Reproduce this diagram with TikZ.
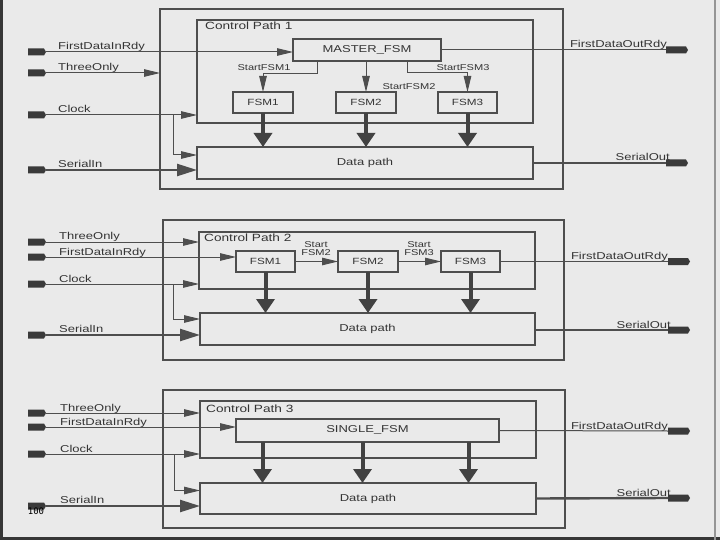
\documentclass[tikz,border=0pt]{standalone}
\usepackage{fontspec}
\setmainfont{Liberation Sans}[FakeStretch=1.3]
\newfontfamily\pagenumfont{DejaVu Sans Mono}
\usetikzlibrary{arrows.meta,shapes.symbols,calc}
\definecolor{bg}{RGB}{234,234,234}
\definecolor{ln}{RGB}{78,78,78}
\definecolor{tx}{RGB}{52,52,52}
\newcommand\sigfont{\fontsize{10}{11}\selectfont}
\newcommand\smallfont{\fontsize{8.5}{7.5}\selectfont}
\newcommand\fsmfont{\fontsize{9}{10}\selectfont}
\newcommand\bigfont{\fontsize{10}{11}\selectfont}
\newcommand\cpfont{\fontsize{10.5}{11}\selectfont}
\tikzset{
  x=1pt, y=-1pt,
  box/.style={draw=ln, line width=1.3pt, inner sep=0pt, outer sep=0pt, anchor=north west, text=tx},
  fsmbox/.style={box, font=\fsmfont},
  bigbox/.style={box, font=\bigfont},
  cplabel/.style={font=\cpfont, text=tx, inner sep=0pt, anchor=base west},
  sigL/.style={font=\sigfont, text=tx, inner sep=0pt, anchor=base west},
  sigR/.style={font=\sigfont, text=tx, inner sep=0pt, anchor=base east},
  startlab/.style={font=\smallfont, text=tx, inner sep=0pt, align=center},
  pin/.style={signal, signal to=east, signal pointer angle=120, fill=ln!75!black, draw=none,
              minimum width=18pt, minimum height=7pt, inner sep=0pt, outer sep=0pt},
  pinR/.style={pin, minimum width=22pt},
  arr/.style={draw=ln, line width=1pt, -{Triangle[length=16pt,width=7.5pt]}},
  plain/.style={draw=ln, line width=1pt},
  bigarr/.style={draw=ln, line width=2.4pt, -{Triangle[length=20pt,width=12pt]}},
  bigline/.style={draw=ln, line width=2.4pt},
  fat/.style={draw=ln!85!black, line width=4pt, -{Triangle[length=14pt,width=18pt]}},
}
\begin{document}
\begin{tikzpicture}
\useasboundingbox (0,0) rectangle (720,540);
\fill[bg] (0,0) rectangle (720,540);
% page frame
\draw[line width=4pt, draw=ln!70!black] (1,0) -- (1,540);
\draw[line width=3pt, draw=ln!70!black] (0,538.5) -- (720,538.5);
\draw[line width=1.5pt, draw=ln!60] (715,0) -- (715,540);

% ================= Diagram 1 =================
\node[box, minimum width=403, minimum height=180] (outer1) at (160,9) {};
\node[box, minimum width=336, minimum height=103] (cp1) at (197,20) {};
\node[cplabel] (cp1l) at (205,30) {Control Path 1};
\node[bigbox, minimum width=148, minimum height=22] (master1) at (293,39) {MASTER\_FSM};
\node[fsmbox, minimum width=60, minimum height=21] (fsm11) at (233,92) {FSM1};
\node[fsmbox, minimum width=60, minimum height=21] (fsm21) at (336,92) {FSM2};
\node[fsmbox, minimum width=59, minimum height=21] (fsm31) at (438,92) {FSM3};
\node[bigbox, minimum width=336, minimum height=32] (dp1) at (197,147) {Data path};

\draw[arr] ([xshift=-50pt]master1.south) -- ++(0,13) -| (fsm11.north);
\draw[arr] (master1.south -| fsm21.north) -- (fsm21.north);
\draw[arr] ([xshift=40pt]master1.south) -- ++(0,12) -| (fsm31.north);
\node[startlab] (s11) at (264,68) {StartFSM1};
\node[startlab] (s21) at (409,87) {StartFSM2};
\node[startlab] (s31) at (463,68) {StartFSM3};

\draw[fat] (fsm11.south) -- (fsm11.south |- dp1.north);
\draw[fat] (fsm21.south) -- (fsm21.south |- dp1.north);
\draw[fat] (fsm31.south) -- (fsm31.south |- dp1.north);

\node[pin] (fdi1) at (36,52) {};
\node[pin] (to1) at (36,73) {};
\node[pin] (clk1) at (36,115) {};
\node[pin] (si1) at (36,170) {};
\node[sigL] (fdi1l) at (58,50) {FirstDataInRdy};
\node[sigL] (to1l) at (58,71) {ThreeOnly};
\node[sigL] (clk1l) at (58,113) {Clock};
\node[sigL] (si1l) at (58,167.5) {SerialIn};
\draw[arr] (fdi1.east) -- (fdi1.east -| master1.west);
\draw[arr] (to1.east) -- (to1.east -| outer1.west);
\draw[arr] (clk1.east) -- (clk1.east -| cp1.west);
\coordinate (br1) at (173,115);
\draw[arr] (br1) |- ([yshift=8pt]dp1.west);
\draw[bigarr] (si1.east) -- (si1.east -| dp1.west);

\node[pinR] (fdo1) at (676,50) {};
\node[pinR] (so1) at (676,163) {};
\node[sigR] (fdo1l) at (667,48) {FirstDataOutRdy};
\node[sigR] (so1l) at (670,161) {SerialOut};
\draw[plain] (master1.east) -- (fdo1.west);
\draw[bigline] (dp1.east) -- (so1.west);

% ================= Diagram 2 =================
\node[box, minimum width=401, minimum height=140] (outer2) at (163,220) {};
\node[box, minimum width=336, minimum height=57] (cp2) at (199,232) {};
\node[cplabel] (cp2l) at (204,241.5) {Control Path 2};
\node[fsmbox, minimum width=59, minimum height=21] (fsm12) at (236,251) {FSM1};
\node[fsmbox, minimum width=60, minimum height=21] (fsm22) at (338,251) {FSM2};
\node[fsmbox, minimum width=59, minimum height=21] (fsm32) at (441,251) {FSM3};
\node[bigbox, minimum width=335, minimum height=32] (dp2) at (200,313) {Data path};

\draw[arr] (fsm12.east) -- (fsm22.west);
\draw[arr] (fsm22.east) -- (fsm32.west);
\node[startlab] (s22) at (316,248.5) {Start\\FSM2};
\node[startlab] (s32) at (419,248.5) {Start\\FSM3};

\draw[fat] (fsm12.south) -- (fsm12.south |- dp2.north);
\draw[fat] (fsm22.south) -- (fsm22.south |- dp2.north);
\draw[fat] (fsm32.south) -- (fsm32.south |- dp2.north);

\node[pin] (to2) at (36,242) {};
\node[pin] (fdi2) at (36,257) {};
\node[pin] (clk2) at (36,284) {};
\node[pin] (si2) at (36,335) {};
\node[sigL] (to2l) at (59,240) {ThreeOnly};
\node[sigL] (fdi2l) at (59,255) {FirstDataInRdy};
\node[sigL] (clk2l) at (59,282) {Clock};
\node[sigL] (si2l) at (59,332.5) {SerialIn};
\draw[arr] (to2.east) -- (to2.east -| cp2.west);
\draw[arr] (fdi2.east) -- (fdi2.east -| fsm12.west);
\draw[arr] (clk2.east) -- (clk2.east -| cp2.west);
\coordinate (br2) at (173,284);
\draw[arr] (br2) |- ([yshift=10pt]dp2.west);
\draw[bigarr] (si2.east) -- (si2.east -| dp2.west);

\node[pinR] (fdo2) at (678,261.5) {};
\node[pinR] (so2) at (678,330) {};
\node[sigR] (fdo2l) at (668,259.5) {FirstDataOutRdy};
\node[sigR] (so2l) at (671,328) {SerialOut};
\draw[plain] (fsm32.east) -- (fdo2.west);
\draw[bigline] (dp2.east |- so2.west) -- (so2.west);

% ================= Diagram 3 =================
\node[box, minimum width=402, minimum height=138] (outer3) at (163,390) {};
\node[box, minimum width=336, minimum height=57] (cp3) at (200,401) {};
\node[cplabel] (cp3l) at (206,412) {Control Path 3};
\node[bigbox, minimum width=263, minimum height=23] (single) at (236,419) {SINGLE\_FSM};
\node[bigbox, minimum width=336, minimum height=31] (dp3) at (200,483) {Data path};

\path ([xshift=-105pt]single.south) coordinate (a31);
\path ([xshift=-5pt]single.south) coordinate (a32);
\path ([xshift=101pt]single.south) coordinate (a33);
\draw[fat] (a31) -- (a31 |- dp3.north);
\draw[fat] (a32) -- (a32 |- dp3.north);
\draw[fat] (a33) -- (a33 |- dp3.north);

\node[pin] (to3) at (36,413) {};
\node[pin] (fdi3) at (36,427) {};
\node[pin] (clk3) at (36,454) {};
\node[pin] (si3) at (36,506) {};
\node[sigL] (to3l) at (60,411) {ThreeOnly};
\node[sigL] (fdi3l) at (60,425) {FirstDataInRdy};
\node[sigL] (clk3l) at (60,452) {Clock};
\node[sigL] (si3l) at (60,503.5) {SerialIn};
\draw[arr] (to3.east) -- (to3.east -| cp3.west);
\draw[arr] (fdi3.east) -- (fdi3.east -| single.west);
\draw[arr] (clk3.east) -- (clk3.east -| cp3.west);
\coordinate (br3) at (174,454);
\draw[arr] (br3) |- ([yshift=8pt]dp3.west);
\draw[bigarr] (si3.east) -- (si3.east -| dp3.west);

\node[pinR] (fdo3) at (678,431) {};
\node[pinR] (so3) at (678,498) {};
\node[sigR] (fdo3l) at (668,429) {FirstDataOutRdy};
\node[sigR] (so3l) at (671,496) {SerialOut};
\draw[plain] (single.east) -- (fdo3.west);
\draw[bigline] (dp3.east) -- (so3.west);

% page number
\node[font=\pagenumfont\fontsize{9}{10}\selectfont, text=black, inner sep=0pt] (pg) at (36,511) {100};
\end{tikzpicture}
\end{document}
